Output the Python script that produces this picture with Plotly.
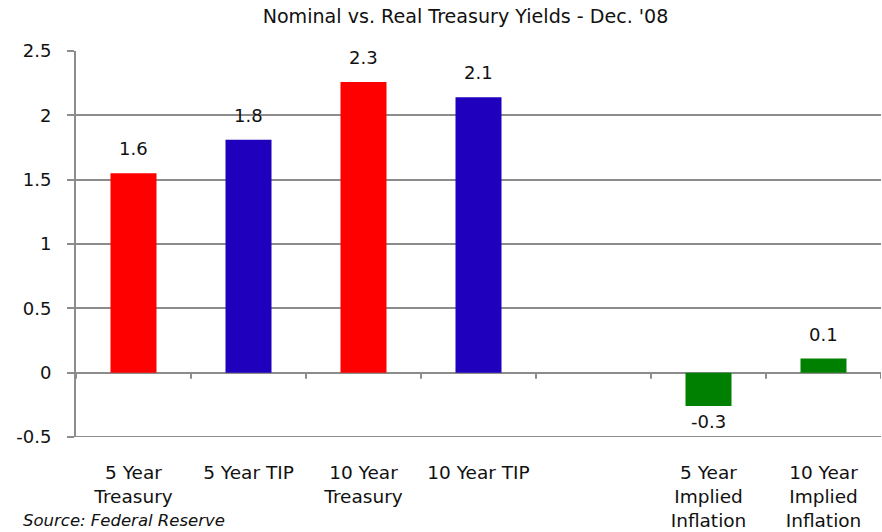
import plotly.graph_objects as go

# Chart data
categories = ["5 Year<br>Treasury", "5 Year TIP", "10 Year<br>Treasury", "10 Year TIP", "",
              "5 Year<br>Implied<br>Inflation", "10 Year<br>Implied<br>Inflation"]
yields = [1.55, 1.81, 2.26, 2.14, None, -0.26, 0.11]
bar_colors = ["#ff0000", "#1e00bd", "#ff0000", "#1e00bd", "#ffffff", "#008000", "#008000"]
y_ticks = [-0.5, 0, 0.5, 1, 1.5, 2, 2.5]
y_tick_labels = ["-0.5", "0", "0.5", "1", "1.5", "2", "2.5"]

FONT = "DejaVu Sans"
GRID = "#8c8c8c"
positions = list(range(len(categories)))

fig = go.Figure()
fig.add_trace(go.Bar(
    x=positions, y=yields, marker=dict(color=bar_colors, line=dict(width=0)),
    width=0.4, hoverinfo="skip", showlegend=False,
))

# Value labels above positive bars, below negative ones
for xi, v in zip(positions, yields):
    if v is None:
        continue
    fig.add_annotation(
        x=xi, y=v, xref="x", yref="y", text=f"{v:.1f}", showarrow=False,
        yanchor="bottom" if v >= 0 else "top",
        yshift=12 if v >= 0 else -3,
        font=dict(family=FONT, size=18, color="#111111"),
    )

# Small downward tick marks on the zero line at category boundaries
for b in range(len(categories) + 1):
    fig.add_shape(
        type="line", xref="x", yref="y", ysizemode="pixel", yanchor=0,
        x0=b - 0.5, x1=b - 0.5, y0=0, y1=-6,
        line=dict(color=GRID, width=2),
    )

# Bottom gridline at the lower end of the value range
fig.add_shape(
    type="line", xref="paper", yref="y", x0=0, x1=1, y0=y_ticks[0], y1=y_ticks[0],
    line=dict(color=GRID, width=2), layer="below",
)

fig.add_annotation(
    text="<i>Source: Federal Reserve</i>", xref="paper", yref="paper",
    x=-0.068, y=-0.246, xanchor="left", yanchor="bottom", showarrow=False,
    font=dict(family=FONT, size=16.5, color="#111111"),
)

fig.update_layout(
    width=882, height=532,
    margin=dict(l=76, r=1, t=51, b=95, autoexpand=False),
    paper_bgcolor="white", plot_bgcolor="white",
    bargap=0.6,
    title=dict(
        text="Nominal vs. Real Treasury Yields - Dec. '08",
        x=465.5 / 882, xanchor="center", xref="container",
        y=1 - 10 / 532, yanchor="top", yref="container",
        font=dict(family=FONT, size=19.1, color="#111111"),
    ),
    xaxis=dict(
        range=[-0.5, len(categories) - 0.5], automargin=False,
        tickmode="array", tickvals=positions, ticktext=categories,
        showgrid=False, zeroline=False, showline=False,
        ticks="outside", ticklen=19, tickcolor="rgba(0,0,0,0)",
        tickfont=dict(family=FONT, size=18.5, color="#111111"),
    ),
    yaxis=dict(
        range=[-0.5, 2.5], automargin=False,
        tickmode="array", tickvals=y_ticks, ticktext=y_tick_labels,
        showgrid=True, gridcolor=GRID, gridwidth=2,
        zeroline=True, zerolinecolor=GRID, zerolinewidth=2,
        showline=True, linecolor=GRID, linewidth=2,
        ticks="outside", ticklen=7, tickcolor=GRID, tickwidth=2,
        ticklabelstandoff=12,
        tickfont=dict(family=FONT, size=18, color="#111111"),
    ),
)

fig.write_html("out.html")
